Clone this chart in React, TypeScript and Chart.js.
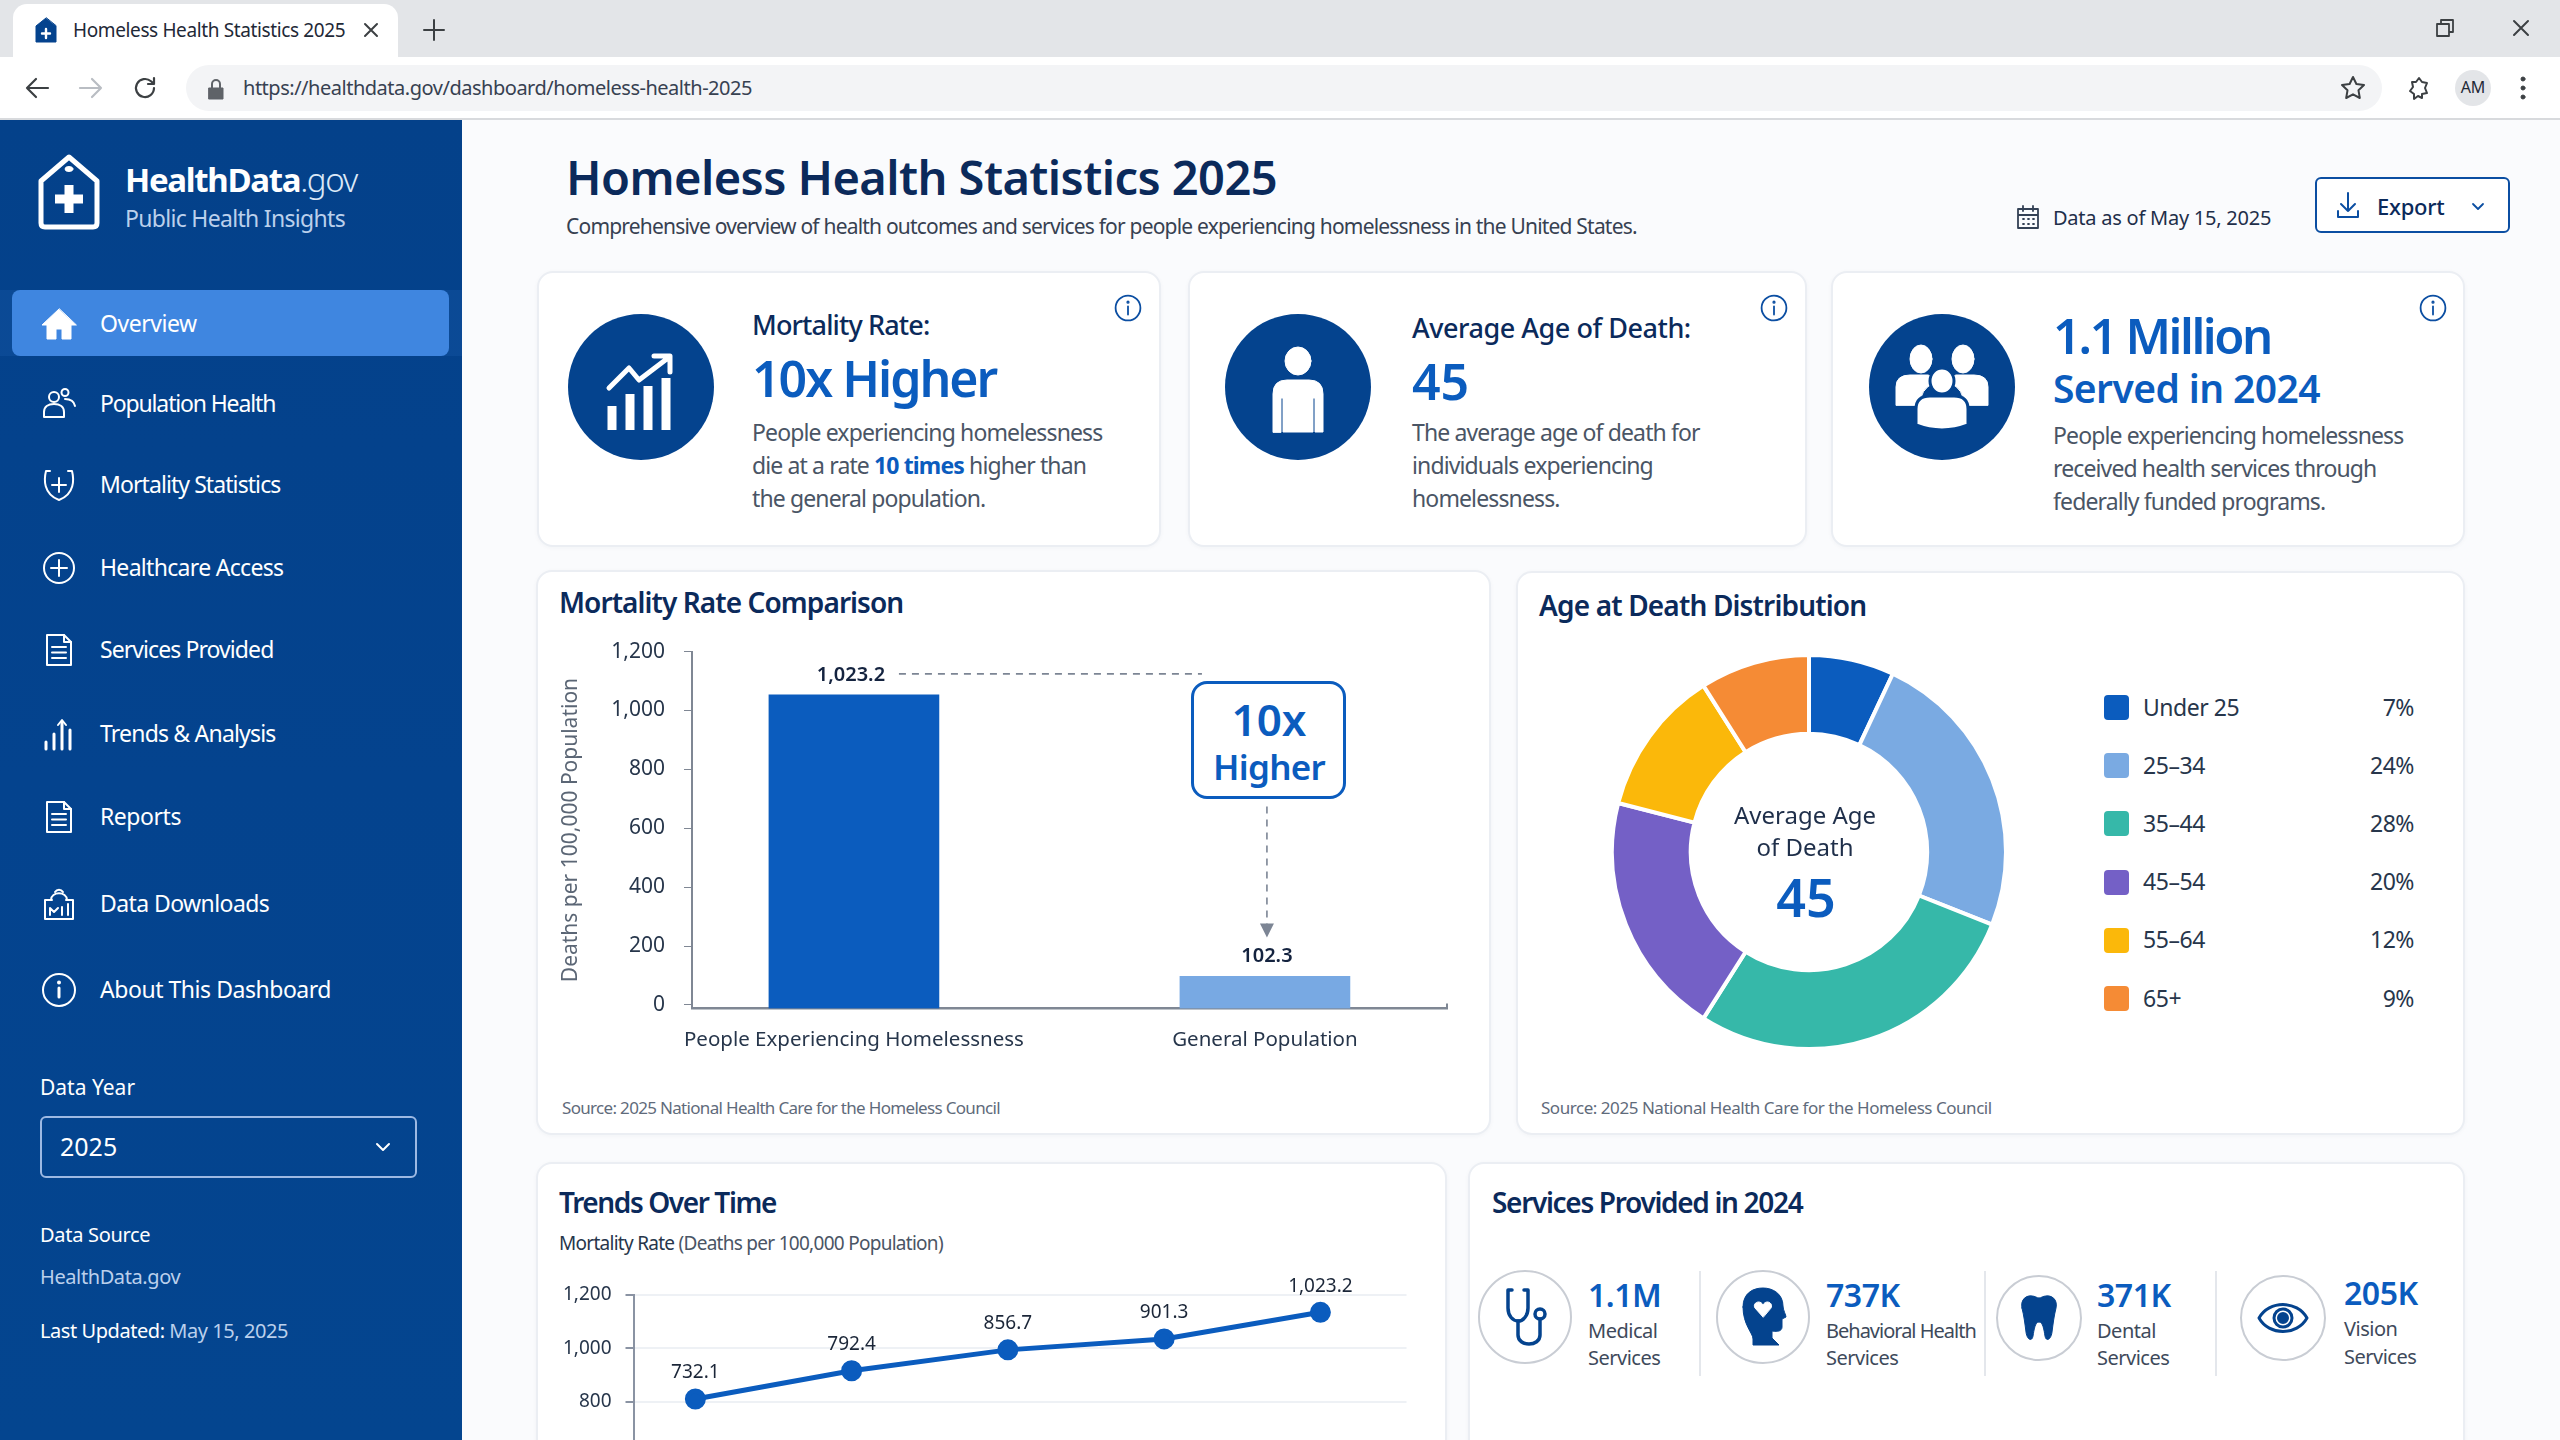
import React, { useEffect, useRef } from 'react';
import Chart from 'chart.js/auto';

const FONT = '"Noto Sans", sans-serif';
const NAVY = '#04438E';
const BLUE = '#0B5CBE';
const INK = '#0B2A5B';
const BODY = '#4A5565';

// Mortality comparison. Bars are drawn at the height the picture shows them,
// the printed labels are kept apart because they do not sit on the axis values.
const barCategories = ['People Experiencing Homelessness', 'General Population'];
const barHeights = [1053, 97];
const barValueLabels = ['1,023.2', '102.3'];
const barColors = [BLUE, '#78A9E3'];
const barTicks = [0, 200, 400, 600, 800, 1000, 1200];

// Trend line, same idea: height on the axis vs. the printed label
const trendHeights = [809.5, 915.5, 994, 1035, 1135];
const trendValueLabels = ['732.1', '792.4', '856.7', '901.3', '1,023.2'];

// Age at death
const ageGroups = ['Under 25', '25–34', '35–44', '45–54', '55–64', '65+'];
const agePercents = [7, 24, 28, 20, 12, 9];
const ageColors = [BLUE, '#7AAAE2', '#36B8A9', '#7460C6', '#FBB80A', '#F58B35'];

const navLabels = ['Overview', 'Population Health', 'Mortality Statistics', 'Healthcare Access', 'Services Provided', 'Trends & Analysis', 'Reports', 'Data Downloads', 'About This Dashboard'];
const navCenters = [323.5, 404, 485, 567.5, 650, 734, 817, 904, 990];
const navSpacing = [-0.02, -0.05, -0.04, -0.03, -0.04, -0.035, -0.02, -0.025, -0.02];

function T({ x, y, size, weight = 400, color = BODY, right, center, ls = 0, children }: any) {
  const style: React.CSSProperties = {
    position: 'absolute',
    top: y,
    fontSize: size,
    fontWeight: weight,
    color,
    fontFamily: FONT,
    lineHeight: 1.2,
    letterSpacing: `${ls}em`,
    whiteSpace: 'nowrap',
    transform: center ? 'translate(-50%, -50%)' : 'translateY(-50%)',
  };
  if (right !== undefined) style.right = 2560 - right;
  else style.left = x;
  return <div style={style}>{children}</div>;
}

function Box({ x, y, w, h, style }: any) {
  return <div style={{ position: 'absolute', left: x, top: y, width: w, height: h, boxSizing: 'border-box', ...style }} />;
}

function Card({ x, y, w, h }: any) {
  return <Box x={x} y={y} w={w} h={h} style={{ background: '#fff', border: '2px solid #EBEEF3', borderRadius: 16, boxShadow: '0 1px 4px rgba(20,40,80,0.04)' }} />;
}

function Icon({ cx, cy, w, h, vb, color = '#fff', sw = 2, fill = 'none', children }: any) {
  return (
    <svg width={w} height={h} viewBox={vb} fill={fill} stroke={color} strokeWidth={sw} strokeLinecap="round" strokeLinejoin="round"
      style={{ position: 'absolute', left: cx - w / 2, top: cy - h / 2 }}>
      {children}
    </svg>
  );
}

function Info({ cx, cy }: any) {
  return (
    <Icon cx={cx} cy={cy} w={28} h={28} vb="0 0 28 28" color="#0B4EA2" sw={1.8}>
      <circle cx="14" cy="14" r="12.4" />
      <path d="M14 12.5v8" />
      <circle cx="14" cy="8.2" r="0.7" />
    </Icon>
  );
}

function NavIcon({ i, cy }: any) {
  const p = { cx: 59, cy, w: 36, h: 36, vb: '0 0 36 36' };
  const doc = (
    <>
      <path d="M6 3h17l7 7v23H6z" />
      <path d="M23 3v7h7M11 15h14M11 20.5h14M11 26h14" />
    </>
  );
  switch (i) {
    case 0:
      return <Icon {...p} fill="#fff" sw={1}><path d="M18 3L1 19h5v14h9V23h6v10h9V19h5z" /></Icon>;
    case 1:
      return (
        <Icon {...p}>
          <circle cx="13" cy="11" r="5" /><circle cx="24" cy="6.5" r="3.5" />
          <path d="M3 31v-5c0-5 4-8 10-8s10 3 10 8v5zM24 13c5 0 9 2 10 7" />
        </Icon>
      );
    case 2:
      return <Icon {...p}><path d="M9 4H5C3 12 2 27 18 33c16-6 15-21 13-29h-4" /><path d="M18 11v14M11 18h14" /></Icon>;
    case 3:
      return <Icon {...p}><circle cx="18" cy="18" r="15" /><path d="M18 10v16M10 18h16" /></Icon>;
    case 4:
    case 6:
      return <Icon {...p}>{doc}</Icon>;
    case 5:
      return <Icon {...p} sw={3}><path d="M5 33v-7M13 33V18M21 33V7M29 33V14" /><path d="M17 9l4-5 4 5" strokeWidth="2" /></Icon>;
    case 7:
      return (
        <Icon {...p}>
          <path d="M4 14h7M25 14h7v19H4V14" />
          <path d="M10 14c0-9 16-9 16 0M14 6c2-3 6-3 8 0" />
          <path d="M9 29v-7l4 4 4-4M21 29V21M27 29V18" />
        </Icon>
      );
    default:
      return <Icon {...p}><circle cx="18" cy="18" r="16" /><path d="M18 16v9" strokeWidth="3" /><circle cx="18" cy="10.5" r="1" /></Icon>;
  }
}

const barNotes = {
  id: 'barNotes',
  afterDatasetsDraw(chart: any) {
    const { ctx, chartArea } = chart;
    const bars = chart.getDatasetMeta(0).data;
    ctx.save();
    ctx.textAlign = 'center';
    ctx.textBaseline = 'middle';
    ctx.fillStyle = '#14233F';
    ctx.font = `600 20px ${FONT}`;
    bars.forEach((bar: any, i: number) => ctx.fillText(barValueLabels[i], bar.x - (i ? -2 : 3), bar.y - 20));
    const topY = bars[0].y - 21;
    const arrowX = bars[1].x + 2;
    ctx.strokeStyle = '#7C8594';
    ctx.lineWidth = 1.6;
    ctx.setLineDash([7, 6]);
    ctx.beginPath();
    ctx.moveTo(bars[0].x + 45, topY);
    ctx.lineTo(arrowX - 65, topY);
    ctx.moveTo(arrowX, bars[1].y - 170);
    ctx.lineTo(arrowX, bars[1].y - 52);
    ctx.stroke();
    ctx.setLineDash([]);
    ctx.fillStyle = '#7C8594';
    ctx.beginPath();
    ctx.moveTo(arrowX - 7, bars[1].y - 53);
    ctx.lineTo(arrowX + 7, bars[1].y - 53);
    ctx.lineTo(arrowX, bars[1].y - 39);
    ctx.fill();
    // small end mark on the category axis
    ctx.strokeStyle = '#7F8794';
    ctx.lineWidth = 2;
    ctx.beginPath();
    ctx.moveTo(chartArea.right, chartArea.bottom - 5);
    ctx.lineTo(chartArea.right, chartArea.bottom);
    ctx.stroke();
    ctx.restore();
  },
};

const trendNotes = {
  id: 'trendNotes',
  afterDatasetsDraw(chart: any) {
    const { ctx } = chart;
    ctx.save();
    ctx.textAlign = 'center';
    ctx.textBaseline = 'middle';
    ctx.fillStyle = '#1B2638';
    ctx.font = `400 19px ${FONT}`;
    chart.getDatasetMeta(0).data.forEach((pt: any, i: number) => ctx.fillText(trendValueLabels[i], pt.x, pt.y - 26));
    ctx.restore();
  },
};

function BarChart() {
  const ref = useRef<HTMLCanvasElement | null>(null);
  useEffect(() => {
    if (!ref.current) return;
    const chart = new Chart(ref.current, {
      type: 'bar',
      data: {
        datasets: [{
          data: barHeights.map((y, i) => ({ x: i, y })),
          backgroundColor: barColors,
          barThickness: 170,
          base: -12,
        }],
      },
      plugins: [barNotes],
      options: {
        responsive: false,
        animation: false,
        layout: { padding: { top: 31, right: 23 } },
        plugins: { legend: { display: false }, tooltip: { enabled: false } },
        scales: {
          x: {
            type: 'linear',
            offset: false,
            min: -0.394,
            max: 1.443,
            grid: { display: false, offset: false },
            border: { color: '#7F8794', width: 2.5 },
            afterBuildTicks: (s: any) => { s.ticks = [{ value: 0 }, { value: 1 }]; },
            afterFit: (s: any) => { s.height = 61.5; },
            ticks: {
              autoSkip: false,
              maxRotation: 0,
              padding: 11,
              color: '#27364B',
              font: { size: 20.5, family: FONT },
              callback: (v: any) => barCategories[v],
            },
          },
          y: {
            min: -12,
            max: 1200,
            afterBuildTicks: (s: any) => { s.ticks = barTicks.map((value) => ({ value })); },
            afterFit: (s: any) => { s.width = 142; },
            grid: { drawOnChartArea: false, tickColor: '#7F8794', tickLength: 8 },
            border: { color: '#7F8794', width: 2 },
            title: {
              display: true,
              text: 'Deaths per 100,000 Population',
              color: '#5B6675',
              padding: { top: 8, bottom: 0 },
              font: { size: 21, family: FONT },
            },
            ticks: {
              padding: 19,
              color: '#27364B',
              font: { size: 21, family: FONT },
              callback: (v: any) => Number(v).toLocaleString('en-US'),
            },
          },
        },
      },
    } as any);
    return () => chart.destroy();
  }, []);
  return <canvas ref={ref} width={920} height={450} style={{ position: 'absolute', left: 550, top: 620 }} />;
}

function DonutChart() {
  const ref = useRef<HTMLCanvasElement | null>(null);
  useEffect(() => {
    if (!ref.current) return;
    const chart = new Chart(ref.current, {
      type: 'doughnut',
      data: {
        labels: ageGroups,
        datasets: [{ data: agePercents, backgroundColor: ageColors, borderColor: '#fff', borderWidth: 4 }],
      },
      options: {
        responsive: false,
        animation: false,
        radius: 197,
        cutout: 120,
        plugins: { legend: { display: false }, tooltip: { enabled: false } },
      },
    } as any);
    return () => chart.destroy();
  }, []);
  return <canvas ref={ref} width={404} height={404} style={{ position: 'absolute', left: 1607, top: 650 }} />;
}

function TrendChart() {
  const ref = useRef<HTMLCanvasElement | null>(null);
  useEffect(() => {
    if (!ref.current) return;
    const chart = new Chart(ref.current, {
      type: 'line',
      data: {
        datasets: [{
          data: trendHeights.map((y, i) => ({ x: i, y })),
          borderColor: BLUE,
          borderWidth: 5,
          backgroundColor: BLUE,
          pointRadius: 8,
          tension: 0,
          fill: false,
        }],
      },
      plugins: [trendNotes],
      options: {
        responsive: false,
        animation: false,
        layout: { padding: { top: 33, right: 13.5, bottom: 17 } },
        plugins: { legend: { display: false }, tooltip: { enabled: false } },
        scales: {
          x: { type: 'linear', display: false, min: -0.396, max: 4.551 },
          y: {
            min: 0,
            max: 1200,
            afterFit: (s: any) => { s.width = 85.5; },
            grid: { color: '#EEF1F5', lineWidth: 2, tickColor: '#8A93A3', tickLength: 8 },
            border: { color: '#8A93A3', width: 2 },
            ticks: {
              stepSize: 200,
              padding: 14,
              color: '#27364B',
              font: { size: 19, family: FONT },
              callback: (v: any) => Number(v).toLocaleString('en-US'),
            },
          },
        },
      },
    } as any);
    return () => chart.destroy();
  }, []);
  return <canvas ref={ref} width={872} height={378} style={{ position: 'absolute', left: 548, top: 1262 }} />;
}

function BrowserChrome() {
  const c = '#3C4043';
  return (
    <>
      <Box x={0} y={0} w={2560} h={57} style={{ background: '#E3E5E8' }} />
      <Box x={13} y={4} w={385} h={56} style={{ background: '#fff', borderRadius: '14px 14px 0 0' }} />
      <Box x={0} y={57} w={2560} h={63} style={{ background: '#fff', borderBottom: '2px solid #D8DADD' }} />
      <Box x={186} y={65} w={2196} h={46} style={{ background: '#F3F4F6', borderRadius: 23 }} />
      <Icon cx={46} cy={30} w={24} h={26} vb="0 0 24 26" color={NAVY} fill={NAVY} sw={1}>
        <path d="M12 1L2 9v16h20V9z" />
        <path d="M12 12v9M8 16.5h8" stroke="#fff" strokeWidth="2.4" />
      </Icon>
      <T x={73} y={30} size={19} color="#1F2937" ls={-0.02}>Homeless Health Statistics 2025</T>
      <Icon cx={371} cy={30} w={16} h={16} vb="0 0 16 16" color={c} sw={2}><path d="M2 2l12 12M14 2L2 14" /></Icon>
      <Icon cx={434} cy={30} w={24} h={24} vb="0 0 24 24" color={c} sw={2}><path d="M12 2v20M2 12h20" /></Icon>
      <Icon cx={37} cy={88} w={26} h={24} vb="0 0 26 24" color={c} sw={2.2}><path d="M24 12H3M12 3l-9 9 9 9" /></Icon>
      <Icon cx={91} cy={88} w={26} h={24} vb="0 0 26 24" color="#B9BDC3" sw={2.2}><path d="M2 12h21M14 3l9 9-9 9" /></Icon>
      <Icon cx={145} cy={88} w={26} h={26} vb="0 0 26 26" color={c} sw={2.2}><path d="M22 13a9 9 0 1 1-3-6.7L22 9M22 3v6h-6" /></Icon>
      <Icon cx={215.5} cy={89} w={16} h={22} vb="0 0 16 22" color="#5F6368" fill="#5F6368" sw={1}>
        <path d="M1 10h14v11H1z" /><path d="M4 10V6a4 4 0 0 1 8 0v4" fill="none" strokeWidth="2" />
      </Icon>
      <T x={243} y={88} size={20} color="#374151" ls={-0.024}>https://healthdata.gov/dashboard/homeless-health-2025</T>
      <Icon cx={2353} cy={88} w={26} h={26} vb="0 0 26 26" color={c} sw={2}><path d="M13 2l3.4 7 7.6 1-5.5 5.3 1.3 7.7-6.8-3.7L6.2 23l1.3-7.7L2 10l7.6-1z" /></Icon>
      <Icon cx={2419} cy={88} w={26} h={26} vb="0 0 26 26" color={c} sw={2}><path d="M13 3l3 4 5 1-2 5 2 5-5 1v4l-4-2-4 3 0-5-4-3 3-4-1-5 4 0z" /></Icon>
      <Box x={2455} y={70} w={36} h={36} style={{ background: '#E3E5E8', borderRadius: 18 }} />
      <T x={2473} y={88} size={16} color="#1F2937" center>AM</T>
      <Icon cx={2523} cy={88} w={6} h={24} vb="0 0 6 24" color={c} fill={c} sw={1}>
        <circle cx="3" cy="3" r="2" /><circle cx="3" cy="12" r="2" /><circle cx="3" cy="21" r="2" />
      </Icon>
      <Icon cx={2445} cy={28} w={20} h={20} vb="0 0 20 20" color={c} sw={1.8}><path d="M2 6h12v12H2zM6 6V2h12v12h-4" /></Icon>
      <Icon cx={2521} cy={28} w={18} h={18} vb="0 0 18 18" color={c} sw={2}><path d="M2 2l14 14M16 2L2 16" /></Icon>
    </>
  );
}

function Sidebar() {
  const soft = '#BBD0EC';
  return (
    <>
      <Box x={0} y={120} w={462} h={1320} style={{ background: `linear-gradient(180deg, #04418A, ${NAVY} 50%, #04458F)` }} />
      <Icon cx={68.5} cy={191.5} w={62} h={76} vb="0 0 62 76" sw={5}>
        <path d="M3 27L31 3l28 24v42q0 4-4 4H7q-4 0-4-4z" />
        <ellipse cx="31" cy="15" rx="4" ry="2.5" fill="#fff" strokeWidth="1" />
        <path d="M31 31v28M17 45h28" strokeWidth="9" strokeLinecap="butt" />
      </Icon>
      <T x={125} y={180} size={33} weight={700} color="#fff" ls={-0.04}>
        HealthData<span style={{ fontWeight: 300, color: '#DCE8F7' }}>.gov</span>
      </T>
      <T x={125} y={219} size={23} color={soft} ls={-0.03}>Public Health Insights</T>
      <Box x={0} y={290} w={462} h={66} style={{ background: 'rgba(63,134,224,0.12)' }} />
      <Box x={12} y={290} w={437} h={66} style={{ background: '#3F86E0', borderRadius: 8 }} />
      {navLabels.map((label, i) => (
        <React.Fragment key={label}>
          <NavIcon i={i} cy={navCenters[i]} />
          <T x={100} y={navCenters[i]} size={23} color="#fff" ls={navSpacing[i]}>{label}</T>
        </React.Fragment>
      ))}
      <T x={40} y={1088} size={21} color="#fff">Data Year</T>
      <Box x={40} y={1116} w={377} h={62} style={{ border: '2px solid #9DB9E3', borderRadius: 6 }} />
      <T x={60} y={1146} size={25} color="#fff">2025</T>
      <Icon cx={383} cy={1147} w={16} h={10} vb="0 0 16 10" sw={2}><path d="M2 2l6 6 6-6" /></Icon>
      <T x={40} y={1235} size={20} color="#fff" ls={-0.015}>Data Source</T>
      <T x={40} y={1277} size={20} color={soft} ls={-0.02}>HealthData.gov</T>
      <T x={40} y={1330.5} size={20} color="#fff" ls={-0.022}>
        Last Updated: <span style={{ color: soft }}>May 15, 2025</span>
      </T>
    </>
  );
}

function CircleBadge({ cx, children }: any) {
  return (
    <>
      <Box x={cx - 73} y={314} w={146} h={146} style={{ background: NAVY, borderRadius: '50%' }} />
      {children}
    </>
  );
}

function StatCards() {
  const L = { size: 23, color: BODY, ls: -0.038 };
  return (
    <>
      <Card x={537} y={271} w={624} h={276} />
      <Card x={1188} y={271} w={619} h={276} />
      <Card x={1831} y={271} w={634} h={276} />

      <CircleBadge cx={640.5}>
        <Icon cx={640} cy={392} w={72} h={80} vb="0 0 72 80" sw={5}>
          <path d="M5 36l20-20 10 12L64 6M50 4h16v16" strokeWidth="5" />
          <path d="M8 78V54M26 78V42M44 78V34M62 78V26" strokeWidth="9" strokeLinecap="butt" />
        </Icon>
      </CircleBadge>
      <Info cx={1128} cy={308} />
      <T x={752} y={325} size={27} weight={500} color={INK} ls={-0.032}>Mortality Rate:</T>
      <T x={752} y={378} size={50} weight={600} color={BLUE} ls={-0.04}>10x Higher</T>
      <T x={752} y={433} {...L}>People experiencing homelessness</T>
      <T x={752} y={466} {...L}>die at a rate <span style={{ color: BLUE, fontWeight: 700 }}>10 times</span> higher than</T>
      <T x={752} y={499} {...L}>the general population.</T>

      <CircleBadge cx={1298}>
        <Icon cx={1298} cy={390} w={62} h={88} vb="0 0 62 88" fill="#fff" sw={1}>
          <ellipse cx="31" cy="15" rx="13" ry="14" />
          <path d="M6 86V48q0-14 14-14h22q14 0 14 14v38H48V52h-2v34H16V52h-2v34z" />
        </Icon>
      </CircleBadge>
      <Info cx={1774} cy={308} />
      <T x={1412} y={328} size={27} weight={500} color={INK} ls={-0.017}>Average Age of Death:</T>
      <T x={1412} y={381} size={50} weight={600} color={BLUE}>45</T>
      <T x={1412} y={433} {...L}>The average age of death for</T>
      <T x={1412} y={466} {...L}>individuals experiencing</T>
      <T x={1412} y={499} {...L}>homelessness.</T>

      <CircleBadge cx={1942}>
        <Icon cx={1942} cy={387} w={96} h={88} vb="0 0 96 88" fill="#fff" sw={1} color="#fff">
          <ellipse cx="27" cy="16" rx="11" ry="14" /><ellipse cx="69" cy="16" rx="11" ry="14" />
          <path d="M2 62V44q0-12 14-12h18q10 3 6 8-14 6-14 22z" /><path d="M94 62V44q0-12-14-12H62q-10 3-6 8 14 6 14 22z" />
          <ellipse cx="48" cy="38" rx="12" ry="13" stroke={NAVY} strokeWidth="3" />
          <path d="M22 82V66q0-13 14-13h24q14 0 14 13v16q-26 10-52 0z" stroke={NAVY} strokeWidth="3" />
        </Icon>
      </CircleBadge>
      <Info cx={2432.5} cy={308} />
      <T x={2053} y={335} size={49} weight={600} color={BLUE} ls={-0.05}>1.1 Million</T>
      <T x={2053} y={388} size={39} weight={600} color={BLUE} ls={-0.015}>Served in 2024</T>
      <T x={2053} y={436} {...L}>People experiencing homelessness</T>
      <T x={2053} y={468.5} {...L}>received health services through</T>
      <T x={2053} y={501.5} {...L}>federally funded programs.</T>
    </>
  );
}

function ServiceIcon({ cx, cy, d, children }: any) {
  return (
    <>
      <Box x={cx - d / 2} y={cy - d / 2} w={d} h={d} style={{ border: '2.5px solid #C9CDD4', borderRadius: '50%', background: '#fff' }} />
      {children}
    </>
  );
}

function Services() {
  const V = { size: 32, weight: 600, color: BLUE, ls: -0.015 };
  const S = { size: 20, color: '#3E4A5B', ls: -0.025 };
  const divider = { background: '#E4E7EC' };
  return (
    <>
      <T x={1492} y={1203} size={28} weight={600} color={INK} ls={-0.047}>Services Provided in 2024</T>

      <ServiceIcon cx={1525} cy={1317} d={94}>
        <Icon cx={1526} cy={1317} w={44} h={60} vb="0 0 44 60" color={NAVY} sw={3.5}>
          <path d="M8 3H4v18c0 8 5 13 10 13s10-5 10-13V3h-4" />
          <path d="M14 34v14c0 12 22 12 22 0V32" />
          <circle cx="36" cy="27" r="5" />
        </Icon>
      </ServiceIcon>
      <T x={1588} y={1295} {...V}>1.1M</T>
      <T x={1588} y={1331} {...S}>Medical</T>
      <T x={1588} y={1358} {...S}>Services</T>
      <Box x={1699} y={1271} w={2} h={105} style={divider} />

      <ServiceIcon cx={1763} cy={1317} d={94}>
        <Icon cx={1764} cy={1317} w={46} h={60} vb="0 0 46 60" color={NAVY} fill={NAVY} sw={1}>
          <path d="M2 20C2 6 12 1 22 1s20 6 20 18c0 4 3 9 3 11l-4 2v8c0 4-4 5-10 4v7L38 58H12v-6c0-6-10-14-10-32z" />
          <path d="M22 30l-8-9c-3-5 5-9 8-3 3-6 11-2 8 3z" fill="#fff" stroke="#fff" />
        </Icon>
      </ServiceIcon>
      <T x={1826} y={1295} {...V}>737K</T>
      <T x={1826} y={1331} {...S} ls={-0.05}>Behavioral Health</T>
      <T x={1826} y={1358} {...S}>Services</T>
      <Box x={1984} y={1271} w={2} h={105} style={divider} />

      <ServiceIcon cx={2038.5} cy={1318} d={86}>
        <Icon cx={2039} cy={1318} w={40} h={48} vb="0 0 40 48" color={NAVY} fill={NAVY} sw={1}>
          <path d="M3 14C1 5 8 1 13 2c3 0 5 2 7 2s4-2 7-2c5-1 12 3 10 12-2 8-3 16-4 24-1 8-6 10-7 4-1-6-2-14-6-14s-5 8-6 14c-1 6-6 4-7-4-1-8-2-16-4-24z" />
        </Icon>
      </ServiceIcon>
      <T x={2097} y={1295} {...V}>371K</T>
      <T x={2097} y={1331} {...S}>Dental</T>
      <T x={2097} y={1358} {...S}>Services</T>
      <Box x={2215} y={1271} w={2} h={105} style={divider} />

      <ServiceIcon cx={2283} cy={1318} d={86}>
        <Icon cx={2283} cy={1318} w={52} h={32} vb="0 0 52 32" color={NAVY} sw={3}>
          <path d="M2 16C12 -2 40 -2 50 16 40 34 12 34 2 16z" />
          <circle cx="26" cy="16" r="9" />
          <circle cx="26" cy="16" r="4.5" fill={NAVY} />
        </Icon>
      </ServiceIcon>
      <T x={2344} y={1293} {...V}>205K</T>
      <T x={2344} y={1329} {...S}>Vision</T>
      <T x={2344} y={1357} {...S}>Services</T>
    </>
  );
}

export default function App() {
  return (
    <div style={{ position: 'relative', width: 2560, height: 1440, overflow: 'hidden', background: '#FAFBFD', fontFamily: FONT }}>
      <style>{'html, body { margin: 0; padding: 0; overflow: hidden; }'}</style>
      <BrowserChrome />
      <Sidebar />

      <T x={566} y={177} size={47} weight={600} color={INK} ls={-0.012}>Homeless Health Statistics 2025</T>
      <T x={566} y={226.5} size={21} color="#374151" ls={-0.038}>Comprehensive overview of health outcomes and services for people experiencing homelessness in the United States.</T>
      <Icon cx={2028} cy={217} w={24} h={26} vb="0 0 24 26" color="#334155" sw={1.8}>
        <path d="M2 5h20v19H2zM2 11h20M7 2v5M17 2v5" />
        <path d="M7 15h1M12 15h1M17 15h1M7 20h1M12 20h1M17 20h1" />
      </Icon>
      <T x={2053} y={218} size={20} color="#1F2F4A" ls={-0.012}>Data as of May 15, 2025</T>
      <Box x={2315} y={177} w={195} h={56} style={{ border: '2px solid #0B4EA2', borderRadius: 6, background: '#fff' }} />
      <Icon cx={2348} cy={205} w={24} h={28} vb="0 0 24 28" color="#0B4EA2" sw={2}><path d="M12 2v18M5 13l7 7 7-7M2 20v6h20v-6" /></Icon>
      <T x={2377} y={206} size={22} weight={500} color={INK} ls={-0.012}>Export</T>
      <Icon cx={2478} cy={206} w={14} h={9} vb="0 0 14 9" color="#0B4EA2" sw={1.8}><path d="M2 2l5 5 5-5" /></Icon>

      <StatCards />

      <Card x={536} y={570} w={955} h={565} />
      <T x={559} y={603} size={28} weight={600} color={INK} ls={-0.033}>Mortality Rate Comparison</T>
      <BarChart />
      <Box x={1191} y={681} w={155} h={118} style={{ background: '#fff', border: '3px solid #0B5CBE', borderRadius: 16 }} />
      <T x={1269} y={719} size={44} weight={600} color={BLUE} center>10x</T>
      <T x={1269} y={767} size={35} weight={600} color={BLUE} center ls={-0.02}>Higher</T>
      <T x={562} y={1107.5} size={17} color="#5F6B7B" ls={-0.04}>Source: 2025 National Health Care for the Homeless Council</T>

      <Card x={1516} y={571} w={949} h={564} />
      <T x={1539} y={606} size={28} weight={600} color={INK} ls={-0.03}>Age at Death Distribution</T>
      <DonutChart />
      <T x={1805} y={815} size={24} color="#1F2F4A" center>Average Age</T>
      <T x={1805} y={847} size={24} color="#1F2F4A" center>of Death</T>
      <T x={1806} y={897} size={52} weight={600} color={BLUE} center>45</T>
      {ageGroups.map((group, i) => {
        const cy = 707.5 + i * 58.2;
        return (
          <React.Fragment key={group}>
            <Box x={2104} y={cy - 12.5} w={25} h={25} style={{ background: ageColors[i], borderRadius: 4 }} />
            <T x={2143} y={cy} size={23} color="#27364B" ls={-0.02}>{group}</T>
            <T right={2414} y={cy} size={23} color="#27364B" ls={-0.02}>{agePercents[i]}%</T>
          </React.Fragment>
        );
      })}
      <T x={1541} y={1107.5} size={17} color="#5F6B7B" ls={-0.027}>Source: 2025 National Health Care for the Homeless Council</T>

      <Card x={536} y={1162} w={911} h={320} />
      <T x={559} y={1203} size={28} weight={600} color={INK} ls={-0.05}>Trends Over Time</T>
      <T x={559} y={1243} size={19} color="#27364B" ls={-0.038}>Mortality Rate <span style={{ color: BODY }}>(Deaths per 100,000 Population)</span></T>
      <TrendChart />

      <Card x={1468} y={1162} w={997} h={320} />
      <Services />
    </div>
  );
}
